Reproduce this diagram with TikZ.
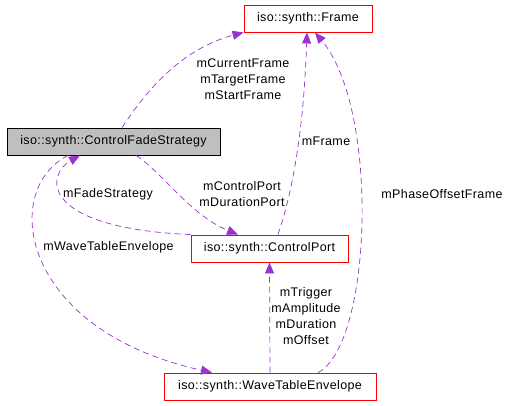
\documentclass[tikz,border=0pt]{standalone}
\usepackage{fontspec}
\setmainfont{Liberation Sans}[LetterSpace=3]
\usepackage{xcolor}
\usetikzlibrary{arrows.meta}
\definecolor{edgepurple}{HTML}{9A32CD}
\definecolor{boxgray}{HTML}{BFBFBF}

\begin{document}
\begin{tikzpicture}[
    x=1pt, y=-1pt,
    every node/.style={
        font=\fontsize{12.5}{16}\selectfont,
        inner sep=0pt,
        align=center
    },
    classbox/.style={
        draw=red,
        line width=0.9pt,
        fill=white,
        minimum height=27pt
    },
    mainbox/.style={
        draw=black,
        line width=0.9pt,
        fill=boxgray,
        minimum height=27pt
    },
    edge/.style={-{Triangle[length=11pt,width=9pt]}, edgepurple, line width=0.7pt, dash pattern=on 6pt off 4pt},
    lbl/.style={text=black}
]
\useasboundingbox (0,0) rectangle (527,405);

\node (frame) [classbox, minimum width=128pt] at (308,18.5) {iso::synth::Frame};
\node (strategy) [mainbox, minimum width=213pt] at (113.5,141.5) {iso::synth::ControlFadeStrategy};
\node (port) [classbox, minimum width=157pt] at (269.5,248.5) {iso::synth::ControlPort};
\node (envelope) [classbox, minimum width=212pt] at (270,386.5) {iso::synth::WaveTableEnvelope};

\draw[edge] ([xshift=8.5pt]strategy.north) .. controls (150,85) and (185,48) .. (frame.south west);
\draw[edge] ([xshift=8.5pt]port.north) .. controls (300,170) and (305,90) .. ([xshift=-1pt]frame.south);
\draw[edge] ([xshift=48pt]envelope.north) .. controls (372,345) and (380,110) .. ([xshift=7pt]frame.south);
\draw[edge] ([xshift=22.5pt]strategy.south) .. controls (160,170) and (190,215) .. ([xshift=-31.5pt]port.north);
\draw[edge] (port.north west) .. controls (40,228) and (45,175) .. ([xshift=-33.5pt]strategy.south);
\draw[edge] ([xshift=-45.5pt]strategy.south) .. controls (0,190) and (20,330) .. ([xshift=-58pt]envelope.north);
\draw[edge] (envelope.north) -- (port.south);

\node (lblframes) [lbl] at (243,79) {mCurrentFrame\\mTargetFrame\\mStartFrame};
\node (lblframe) [lbl] at (326,141) {mFrame};
\node (lblphase) [lbl] at (442,194) {mPhaseOffsetFrame};
\node (lblports) [lbl] at (242,194.5) {mControlPort\\mDurationPort};
\node (lblfade) [lbl] at (108,194) {mFadeStrategy};
\node (lblwave) [lbl] at (108.5,247) {mWaveTableEnvelope};
\node (lblenv) [lbl] at (306,316) {mTrigger\\mAmplitude\\mDuration\\mOffset};

\end{tikzpicture}
\end{document}
